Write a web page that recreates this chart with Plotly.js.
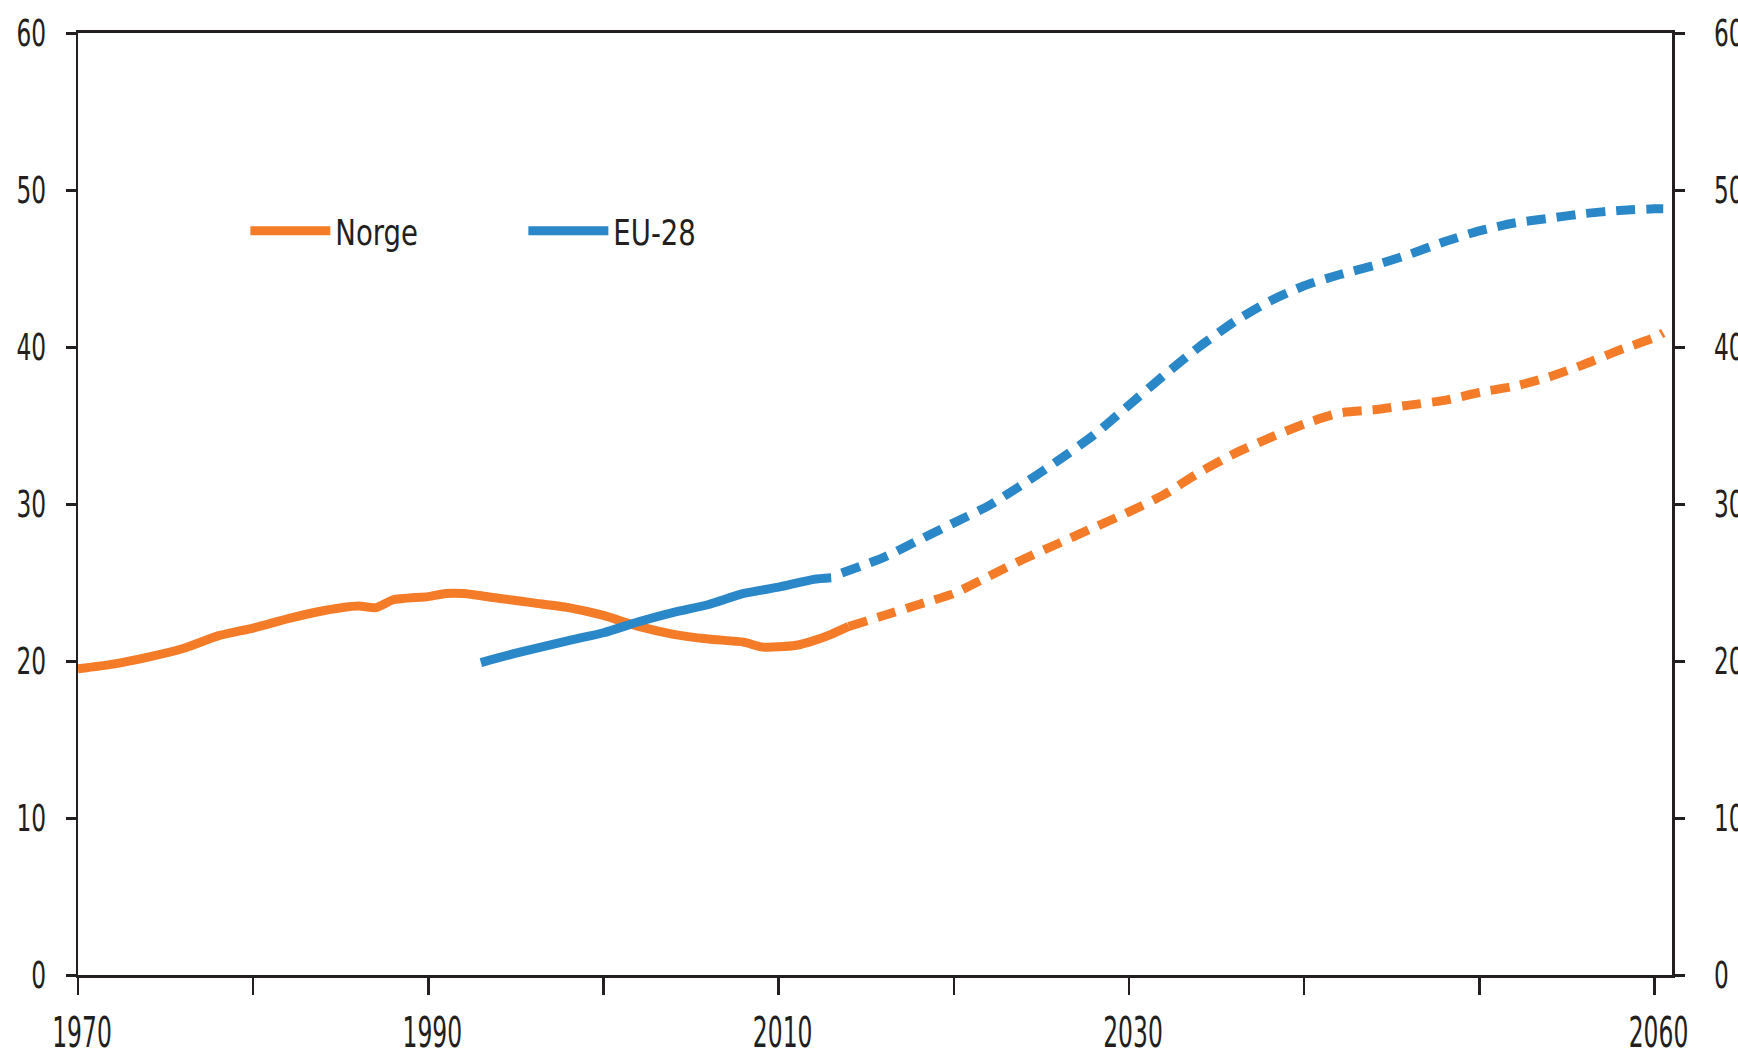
<!DOCTYPE html>
<html>
<head>
<meta charset="utf-8">
<script src="https://cdn.plot.ly/plotly-3.0.1.min.js"></script>
<style>
html,body{margin:0;padding:0;background:#fff;}
#chart{width:1738px;height:1058px;}
</style>
</head>
<body>
<div id="chart"></div>
<script>
// Norge, historical (solid)
const norgeHistYears = [1970,1972,1974,1976,1978,1980,1982,1984,1986,1987,1988,1990,1991,1992,1994,1996,1998,2000,2002,2004,2006,2008,2009,2010,2011,2012,2013,2014];
const norgeHistVals  = [19.5,19.8,20.25,20.8,21.6,22.1,22.7,23.2,23.5,23.4,23.9,24.1,24.3,24.3,24.0,23.7,23.4,22.9,22.2,21.7,21.4,21.2,20.9,20.9,21.0,21.3,21.7,22.2];
// Norge, projection (dashed)
const norgeProjYears = [2014,2016,2018,2020,2022,2024,2026,2028,2030,2032,2034,2036,2038,2040,2042,2044,2046,2048,2050,2052,2054,2056,2058,2060,2060.5];
const norgeProjVals  = [22.2,22.9,23.6,24.3,25.4,26.5,27.5,28.5,29.5,30.6,32.0,33.2,34.2,35.1,35.8,36.0,36.3,36.6,37.1,37.5,38.1,38.9,39.8,40.6,40.9];
// EU-28, historical (solid)
const euHistYears = [1993,1995,1998,2000,2002,2004,2006,2008,2010,2012,2013];
const euHistVals  = [19.9,20.5,21.3,21.8,22.5,23.1,23.6,24.3,24.7,25.2,25.3];
// EU-28, projection (dashed)
const euProjYears = [2013.6,2016,2018,2020,2022,2024,2026,2028,2030,2032,2034,2036,2038,2040,2042,2044,2046,2048,2050,2052,2054,2056,2058,2060,2060.5];
const euProjVals  = [25.6,26.6,27.7,28.8,29.9,31.3,32.8,34.4,36.3,38.2,40.0,41.6,42.9,43.9,44.6,45.2,45.9,46.7,47.4,47.9,48.2,48.5,48.7,48.8,48.8];

const xTickVals = [1970,1980,1990,2000,2010,2020,2030,2040,2050,2060];
const xTickText = ['1970','','1990','','2010','','2030','','','2060'];
const yTickVals = [0,10,20,30,40,50,60];

const orange = '#f47b28';
const blue = '#2a87c8';
const ink = '#231f20';
const font = 'DejaVu Sans Condensed, DejaVu Sans, sans-serif';
const lw = 9;
const dashPat = '19px,11px';

const traces = [
  {x: norgeHistYears, y: norgeHistVals, name: 'Norge', mode: 'lines', type: 'scatter',
   line: {color: orange, width: lw, shape: 'spline', smoothing: 0.6}, showlegend: true},
  {x: euHistYears, y: euHistVals, name: 'EU-28', mode: 'lines', type: 'scatter',
   line: {color: blue, width: lw, shape: 'spline', smoothing: 0.6}, showlegend: true},
  {x: norgeProjYears, y: norgeProjVals, name: 'Norge (framskriving)', mode: 'lines', type: 'scatter',
   line: {color: orange, width: lw, dash: dashPat, shape: 'spline', smoothing: 0.6}, showlegend: false},
  {x: euProjYears, y: euProjVals, name: 'EU-28 (framskriving)', mode: 'lines', type: 'scatter', yaxis: 'y2',
   line: {color: blue, width: lw, dash: dashPat, shape: 'spline', smoothing: 0.6}, showlegend: false}
];

const layout = {
  width: 1738, height: 1058,
  paper_bgcolor: '#fff', plot_bgcolor: '#fff',
  margin: {l: 78, r: 66, t: 33, b: 83, pad: 0},
  font: {family: font, size: 37, color: ink},
  showlegend: true,
  legend: {
    orientation: 'h', x: 0.105, y: 0.79, xanchor: 'left', yanchor: 'middle',
    font: {family: font, size: 36, color: ink},
    itemwidth: 80, entrywidth: 183, bgcolor: 'rgba(0,0,0,0)', traceorder: 'normal'
  },
  xaxis: {
    range: [1970, 2061], tickmode: 'array', tickvals: xTickVals, ticktext: xTickText,
    showgrid: false, zeroline: false, showline: true, linecolor: ink, linewidth: 3, mirror: true,
    ticks: 'outside', ticklen: 17, tickwidth: 2.5, tickcolor: ink, ticklabelstandoff: 2,
    tickfont: {family: font, size: 42, color: ink}
  },
  yaxis: {
    range: [0, 60], tickmode: 'array', tickvals: yTickVals,
    showgrid: false, zeroline: false, showline: true, linecolor: ink, linewidth: 2.5,
    ticks: 'outside', ticklen: 10, tickwidth: 3, tickcolor: ink, ticklabelstandoff: 12,
    tickfont: {family: font, size: 37, color: ink}
  },
  yaxis2: {
    range: [0, 60], tickmode: 'array', tickvals: yTickVals, overlaying: 'y', side: 'right', anchor: 'x',
    showgrid: false, zeroline: false, showline: true, linecolor: ink, linewidth: 2.5,
    ticks: 'outside', ticklen: 10, tickwidth: 3, tickcolor: ink, ticklabelstandoff: 14,
    tickfont: {family: font, size: 37, color: ink}
  }
};

// Narrow the text horizontally to imitate the condensed face of the original
function condenseAll() {
  document.querySelectorAll('#chart g[class*="tick"] > text, #chart .legendtext').forEach(function (t) {
    if (t.getAttribute('data-cond') === '1') return;
    const g = t.parentNode;
    const cls = (g && g.getAttribute('class')) || '';
    let sx = 0.85, dx = 0;
    if (t.classList.contains('legendtext')) { sx = 0.85; }
    else if (/^x/.test(cls)) { sx = 0.62; dx = 4; }
    else if (/^y2/.test(cls)) { sx = 0.7; dx = 8; }
    else if (/^y/.test(cls)) { sx = 0.7; }
    else return;
    const bb = t.getBBox();
    const anchor = t.getAttribute('text-anchor') || 'start';
    const ax = anchor === 'end' ? bb.x + bb.width : (anchor === 'middle' ? bb.x + bb.width / 2 : bb.x);
    const prev = t.getAttribute('transform') || '';
    t.setAttribute('transform', prev + ' translate(' + (ax + dx) + ',0) scale(' + sx + ',1) translate(' + (-ax) + ',0)');
    t.setAttribute('data-cond', '1');
  });
}

Plotly.newPlot('chart', traces, layout, {displayModeBar: false, staticPlot: true}).then(function () {
  condenseAll();
  requestAnimationFrame(condenseAll);
  setTimeout(condenseAll, 50);
  setTimeout(condenseAll, 300);
});
</script>
</body>
</html>
